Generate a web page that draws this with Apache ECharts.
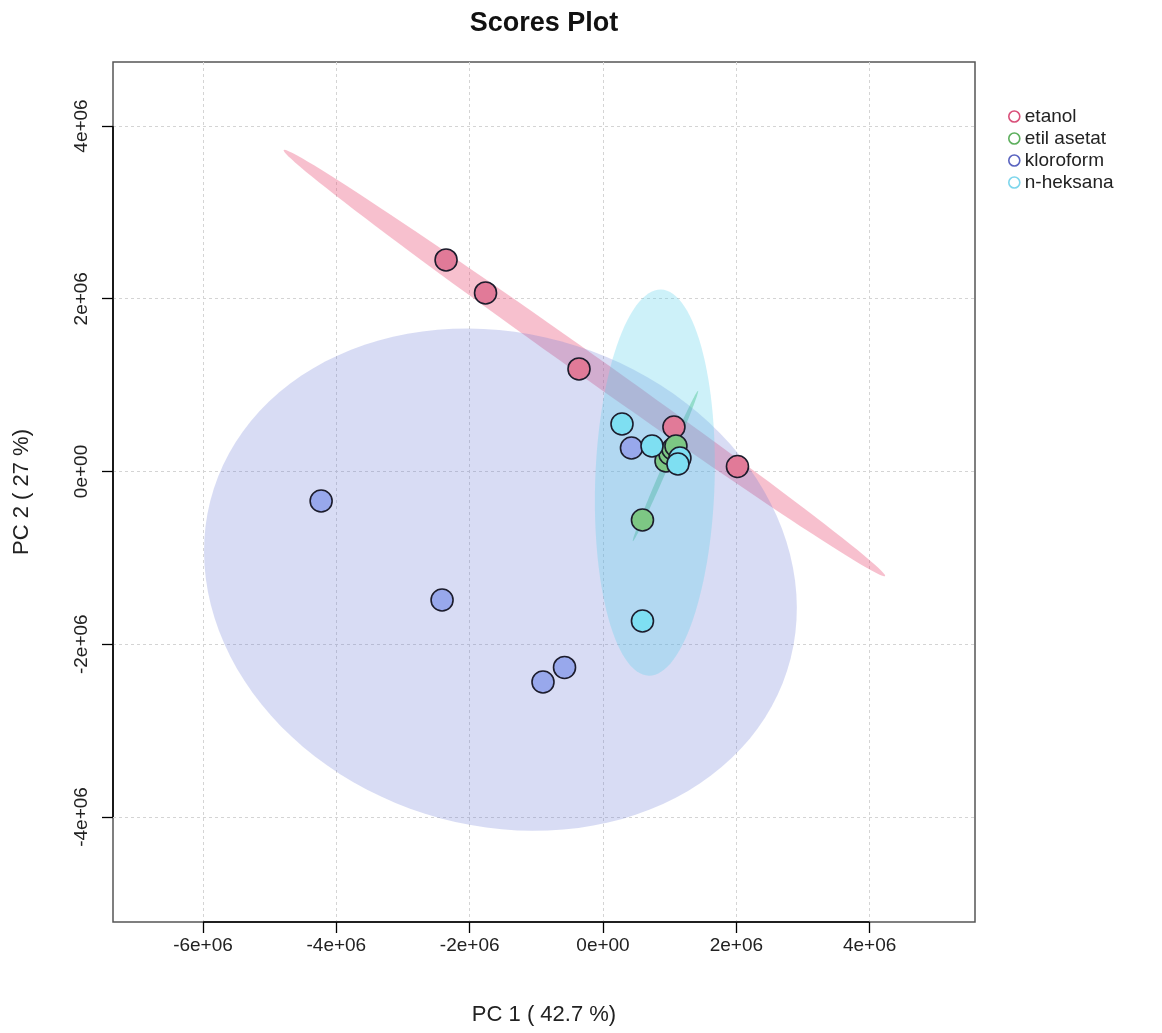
<!DOCTYPE html>
<html><head><meta charset="utf-8">
<script src="https://cdn.jsdelivr.net/npm/echarts@6/dist/echarts.min.js"></script>
<style>html,body{margin:0;padding:0;background:#fff}#c{width:1162px;height:1033px}</style>
</head><body><div id="c"></div>
<script>
// ---- data ----
const groups = ['etanol', 'etil asetat', 'kloroform', 'n-heksana'];
const etanolPC1 = [-2.354e6, -1.762e6, -0.360e6, 1.064e6, 2.017e6];
const etanolPC2 = [2.449e6, 2.067e6, 1.187e6, 0.515e6, 0.058e6];
const etilPC1 = [0.592e6, 0.945e6, 1.004e6, 1.049e6, 1.094e6];
const etilPC2 = [-0.562e6, 0.122e6, 0.203e6, 0.260e6, 0.295e6];
const kloroPC1 = [-4.228e6, -2.414e6, -0.900e6, -0.577e6, 0.427e6];
const kloroPC2 = [-0.342e6, -1.488e6, -2.437e6, -2.269e6, 0.272e6];
const heksPC1 = [0.285e6, 0.735e6, 0.592e6, 1.154e6, 1.124e6];
const heksPC2 = [0.550e6, 0.295e6, -1.731e6, 0.156e6, 0.087e6];
const xTicks = [-6e6, -4e6, -2e6, 0, 2e6, 4e6];
const xTickLabels = ['-6e+06', '-4e+06', '-2e+06', '0e+00', '2e+06', '4e+06'];
const yTicks = [-4e6, -2e6, 0, 2e6, 4e6];
const yTickLabels = ['-4e+06', '-2e+06', '0e+00', '2e+06', '4e+06'];
const titleText = 'Scores Plot';
const xName = 'PC 1 ( 42.7 %)';
const yName = 'PC 2 ( 27 %)';

// ---- styling ----
const FONT = '"Liberation Sans", Arial, sans-serif';
const pointFill = ['#E17A98', '#7DC784', '#98A8EC', '#7EDFF2'];
const legendStroke = ['#D9507A', '#5DAF5D', '#5A64C0', '#7ED6EC'];
const ellipseFill = ['rgba(232,80,120,0.36)', 'rgba(70,190,110,0.45)', 'rgba(100,115,210,0.25)', 'rgba(90,210,235,0.30)'];
const X_MIN = -7.35e6, X_MAX = 5.58e6, Y_MIN = -5.216e6, Y_MAX = 4.741e6;

const pcX = [etanolPC1, etilPC1, kloroPC1, heksPC1];
const pcY = [etanolPC2, etilPC2, kloroPC2, heksPC2];

// 95% confidence ellipse of each group (same construction as R's ellipse::ellipse)
function confEllipse(xs, ys) {
  const n = xs.length;
  const mx = xs.reduce((a, b) => a + b, 0) / n;
  const my = ys.reduce((a, b) => a + b, 0) / n;
  let sxx = 0, syy = 0, sxy = 0;
  for (let i = 0; i < n; i++) {
    sxx += (xs[i] - mx) ** 2; syy += (ys[i] - my) ** 2; sxy += (xs[i] - mx) * (ys[i] - my);
  }
  sxx /= (n - 1); syy /= (n - 1); sxy /= (n - 1);
  const t = Math.sqrt(5.991464547);
  const r = sxy / Math.sqrt(sxx * syy);
  const d = Math.acos(Math.max(-1, Math.min(1, r)));
  const pts = [];
  for (let i = 0; i < 120; i++) {
    const a = 2 * Math.PI * i / 120;
    pts.push([mx + t * Math.sqrt(sxx) * Math.cos(a + d / 2), my + t * Math.sqrt(syy) * Math.cos(a - d / 2)]);
  }
  return { center: [mx, my], pts };
}
const ellipses = groups.map((g, i) => confEllipse(pcX[i], pcY[i]));

const series = [];
series.push({
  type: 'custom', name: 'ellipses', silent: true, z: 1,
  data: ellipses.map(e => e.center),
  encode: { x: 0, y: 1 },
  renderItem: function (params, api) {
    const e = ellipses[params.dataIndex];
    return { type: 'polygon', shape: { points: e.pts.map(p => api.coord(p)) },
      style: { fill: ellipseFill[params.dataIndex], stroke: null } };
  }
});
groups.forEach((g, i) => {
  series.push({
    type: 'scatter', name: g, z: 3,
    data: pcX[i].map((x, k) => [x, pcY[i][k]]),
    symbol: 'circle', symbolSize: 22,
    itemStyle: { color: pointFill[i], borderColor: '#1c1c2c', borderWidth: 1.6, opacity: 1 },
    emphasis: { disabled: true }
  });
});
// R-style axis lines spanning first..last tick
series.push({
  type: 'custom', name: 'axislines', silent: true, z: 5, clip: false,
  data: [[0, 0]],
  renderItem: function (params, api) {
    const b0 = api.coord([xTicks[0], Y_MIN]), b1 = api.coord([xTicks[xTicks.length - 1], Y_MIN]);
    const l0 = api.coord([X_MIN, yTicks[0]]), l1 = api.coord([X_MIN, yTicks[yTicks.length - 1]]);
    return { type: 'group', children: [
      { type: 'line', shape: { x1: b0[0], y1: b0[1], x2: b1[0], y2: b1[1] }, style: { stroke: '#000', lineWidth: 1.6 } },
      { type: 'line', shape: { x1: l0[0], y1: l0[1], x2: l1[0], y2: l1[1] }, style: { stroke: '#000', lineWidth: 1.6 } }
    ] };
  }
});

const chart = echarts.init(document.getElementById('c'), null, { renderer: 'canvas' });
chart.setOption({
  animation: false,
  backgroundColor: '#fff',
  graphic: [{ type: 'text', x: 544, y: 10, z: 10,
    style: { text: titleText, font: 'bold 27px ' + FONT, fill: '#111', align: 'center', verticalAlign: 'top' } }],
  grid: { left: 113, top: 62, width: 862, height: 860, show: true, borderColor: '#555', borderWidth: 1.5, backgroundColor: 'transparent' },
  legend: {
    orient: 'vertical', left: 1003, top: 102, itemWidth: 11, itemHeight: 11, itemGap: 3,
    icon: 'circle', selectedMode: false,
    textStyle: { fontFamily: FONT, fontSize: 19, color: '#222', lineHeight: 18 },
    data: groups.map((g, i) => ({ name: g, itemStyle: { color: 'rgba(255,255,255,0)', borderColor: legendStroke[i], borderWidth: 1.6 } }))
  },
  xAxis: {
    type: 'value', min: X_MIN, max: X_MAX,
    axisLine: { show: false, onZero: false },
    axisTick: { show: true, customValues: xTicks, length: 11, lineStyle: { color: '#000', width: 1.3 } },
    axisLabel: { customValues: xTicks, formatter: v => xTickLabels[xTicks.indexOf(v)], margin: 14,
      fontFamily: FONT, fontSize: 19, color: '#222' },
    splitLine: { show: true, lineStyle: { color: '#d4d4d4', type: [3, 3], width: 1 } },
    name: xName, nameLocation: 'middle', nameGap: 82,
    nameTextStyle: { fontFamily: FONT, fontSize: 22, color: '#222' }
  },
  yAxis: {
    type: 'value', min: Y_MIN, max: Y_MAX,
    axisLine: { show: false, onZero: false },
    axisTick: { show: true, customValues: yTicks, length: 11, lineStyle: { color: '#000', width: 1.3 } },
    axisLabel: { customValues: yTicks, formatter: v => yTickLabels[yTicks.indexOf(v)], margin: 22, rotate: 90,
      fontFamily: FONT, fontSize: 19, color: '#222' },
    splitLine: { show: true, lineStyle: { color: '#d4d4d4', type: [3, 3], width: 1 } },
    name: yName, nameLocation: 'middle', nameGap: 80, nameRotate: 90,
    nameTextStyle: { fontFamily: FONT, fontSize: 22, color: '#222' }
  },
  series: series
});
</script></body></html>
